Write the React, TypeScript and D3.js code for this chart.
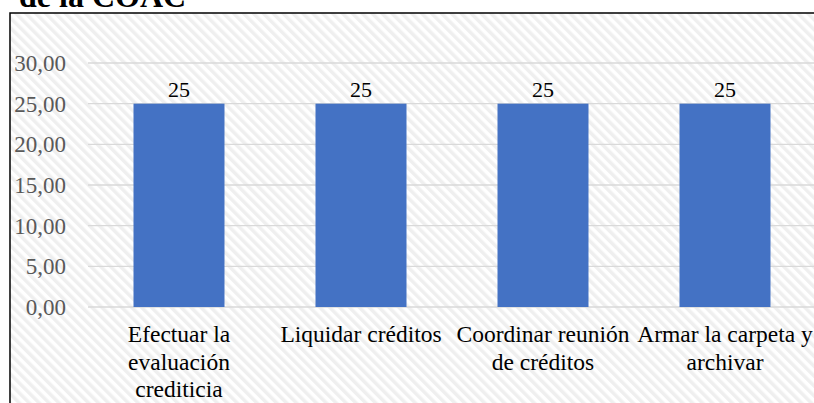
import React from "react";
import * as d3 from "d3";

const categories = [
  "Efectuar la evaluación crediticia",
  "Liquidar créditos",
  "Coordinar reunión de créditos",
  "Armar la carpeta y archivar",
];
const categoryLines = [
  ["Efectuar la", "evaluación", "crediticia"],
  ["Liquidar créditos"],
  ["Coordinar reunión", "de créditos"],
  ["Armar la carpeta y", "archivar"],
];
const values = [25, 25, 25, 25];
const yTicks = [0, 5, 10, 15, 20, 25, 30];
const yTickLabels = ["0,00", "5,00", "10,00", "15,00", "20,00", "25,00", "30,00"];
const dataLabels = ["25", "25", "25", "25"];
const title = "de la COAC";

const W = 814;
const H = 403;
const FONT = "'Liberation Serif', 'Times New Roman', serif";

export default function App() {
  const x = d3
    .scaleBand<string>()
    .domain(categories)
    .range([88, 816])
    .paddingInner(0.5)
    .paddingOuter(0.25);
  const y = d3.scaleLinear().domain([0, 30]).range([307, 63]);

  return (
    <svg
      width={W}
      height={H}
      style={{ position: "absolute", left: 0, top: 0, display: "block" }}
      fontFamily={FONT}
    >
      <defs>
        <pattern
          id="stripes"
          width={7}
          height={7}
          patternUnits="userSpaceOnUse"
          patternTransform="rotate(-45)"
        >
          <rect width={7} height={7} fill="#ffffff" />
          <rect width={3.5} height={7} fill="#efefef" />
        </pattern>
      </defs>
      <rect width={W} height={H} fill="#ffffff" />
      <text x={19} y={7} fontSize={32} fontWeight="bold" fill="#000">
        {title}
      </text>
      <rect x={10} y={13} width={900} height={500} fill="url(#stripes)" stroke="#000" strokeWidth={1.5} />
      {yTicks.map((t, i) => (
        <g key={t}>
          <line x1={88} x2={W} y1={y(t)} y2={y(t)} stroke="#d9d9d9" strokeWidth={1.3} />
          <text
            x={66}
            y={y(t)}
            dy="0.35em"
            textAnchor="end"
            fontSize={23}
            fill="#595959"
          >
            {yTickLabels[i]}
          </text>
        </g>
      ))}
      {categories.map((c, i) => (
        <g key={c}>
          <rect
            x={x(c)}
            y={y(values[i])}
            width={x.bandwidth()}
            height={y(0) - y(values[i])}
            fill="#4472C4"
          />
          <text
            x={(x(c) as number) + x.bandwidth() / 2}
            y={y(values[i]) - 7}
            textAnchor="middle"
            fontSize={22}
            fill="#000"
          >
            {dataLabels[i]}
          </text>
          {categoryLines[i].map((ln, j) => (
            <text
              key={j}
              x={(x(c) as number) + x.bandwidth() / 2}
              y={342 + j * 27.5}
              textAnchor="middle"
              fontSize={23.5}
              fill="#000"
            >
              {ln}
            </text>
          ))}
        </g>
      ))}
    </svg>
  );
}
